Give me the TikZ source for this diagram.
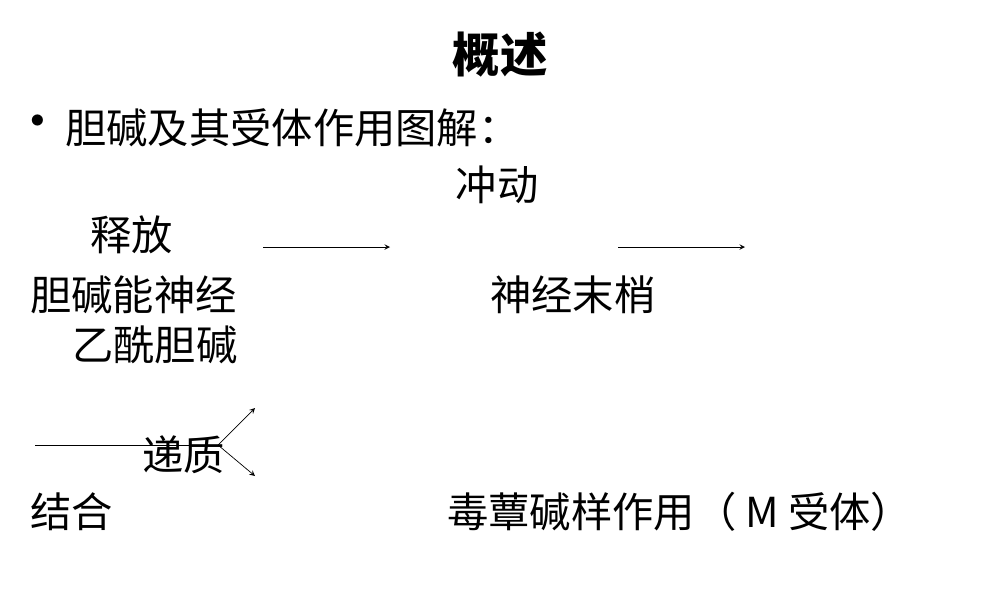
\documentclass[tikz,border=0pt]{standalone}
\usepackage{fontspec}
\setmainfont{Noto Sans CJK SC}
\begin{document}
\begin{tikzpicture}[x=0.02cm,y=-0.02cm,
  txt/.style={anchor=west,inner sep=0,font=\fontsize{23.5}{23.5}\selectfont},
  arr/.style={-stealth,thin}]
\useasboundingbox (0,0) rectangle (1000,600);
\node[inner sep=0,font=\fontsize{27}{27}\selectfont\bfseries] (title) at (500,55) {概述};
\node[anchor=center,inner sep=0,font=\fontsize{30}{30}\selectfont] (bul) at (38,128) {•};
\node[txt] (head) at (65,128) {胆碱及其受体作用图解：};
\node[txt,anchor=center] (imp) at (497,185) {冲动};
\node[txt] (rel) at (90,235) {释放};
\coordinate (a1s) at (263,247); \coordinate (a1e) at (390,247);
\coordinate (a2s) at (618,247); \coordinate (a2e) at (745,247);
\draw[arr] (a1s) -- (a1e);
\draw[arr] (a2s) -- (a2e);
\node[txt] (nerve) at (30,295) {胆碱能神经};
\node[txt] (end) at (490,295) {神经末梢};
\node[txt] (ach) at (72,345) {乙酰胆碱};
\coordinate (ls) at (35,445); \coordinate (lm) at (218,445);
\coordinate (u) at (255,408); \coordinate (d) at (255,476);
\draw[thin] (ls) -- (lm);
\draw[arr] (lm) -- (u);
\draw[arr] (lm) -- (d);
\node[txt] (trans) at (142,455) {递质};
\node[txt] (bind) at (30,512) {结合};
\node[txt] (musc) at (447,512) {毒蕈碱样作用（ M 受体）};
\end{tikzpicture}
\end{document}
